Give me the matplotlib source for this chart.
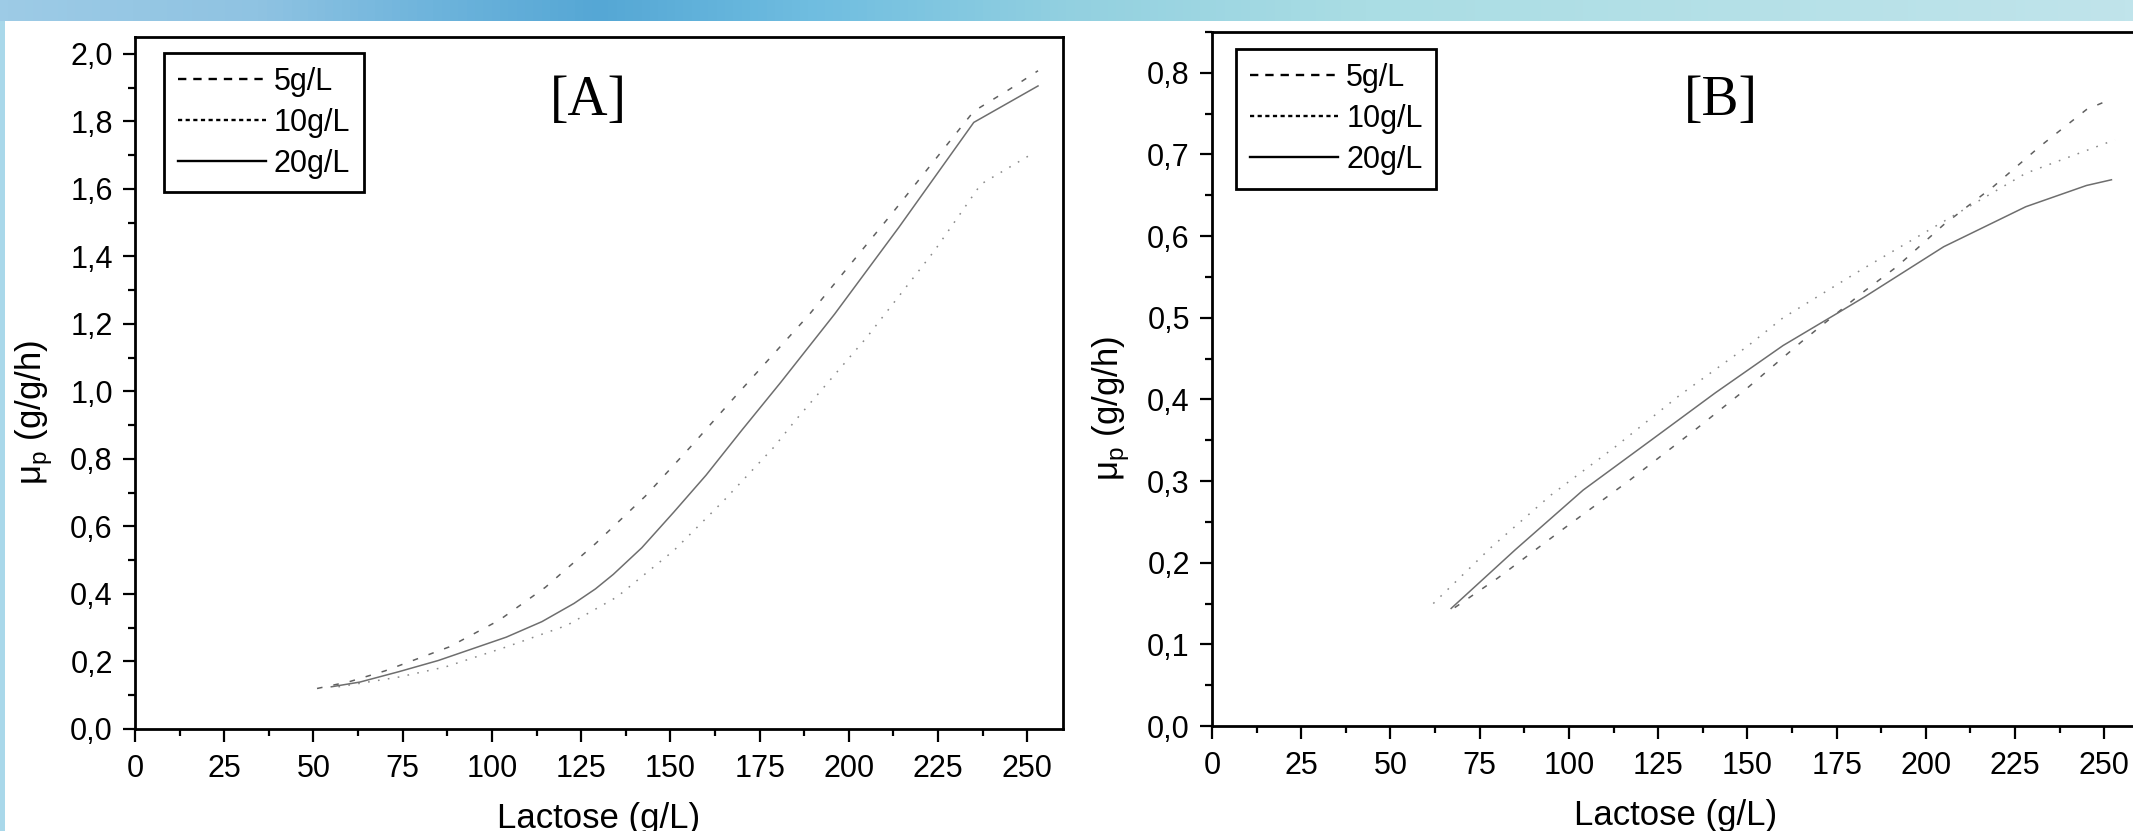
import matplotlib
matplotlib.use('Agg')
import matplotlib.pyplot as plt
from matplotlib.lines import Line2D
from matplotlib.patches import Rectangle
from matplotlib.colors import LinearSegmentedColormap
from matplotlib.ticker import MultipleLocator, FuncFormatter
import numpy as np

# --- data -----------------------------------------------------------------
labels = ['5g/L', '10g/L', '20g/L']

# panel A
lactose_a_5 = [51, 60, 70, 88, 102, 115, 129, 143, 156, 168, 189, 212, 235, 245, 253]
mu_a_5 = [0.12, 0.14, 0.172, 0.243, 0.322, 0.42, 0.549, 0.69, 0.84, 0.983, 1.229, 1.526, 1.83, 1.895, 1.95]
lactose_a_10 = [57, 74, 87, 104, 121, 135, 151, 165, 179, 185, 205, 224, 237, 252]
mu_a_10 = [0.125, 0.154, 0.184, 0.243, 0.307, 0.391, 0.529, 0.677, 0.835, 0.914, 1.16, 1.417, 1.614, 1.708]
lactose_a_20 = [55, 63, 74, 85, 104, 114, 123, 129, 134, 142, 151, 160, 170, 181, 196, 214, 235, 253]
mu_a_20 = [0.125, 0.139, 0.17, 0.203, 0.272, 0.318, 0.372, 0.415, 0.458, 0.537, 0.643, 0.752, 0.885, 1.028, 1.229, 1.486, 1.797, 1.905]

# panel B
lactose_b_5 = [68, 80, 98, 117, 136, 150, 165, 182, 192, 205, 219, 232, 245, 252]
mu_b_5 = [0.145, 0.181, 0.240, 0.301, 0.365, 0.414, 0.47, 0.53, 0.563, 0.614, 0.661, 0.710, 0.755, 0.768]
lactose_b_10 = [62, 78, 95, 113, 131, 150, 160, 182, 205, 228, 253]
mu_b_10 = [0.150, 0.218, 0.283, 0.342, 0.405, 0.465, 0.50, 0.559, 0.618, 0.677, 0.718]
lactose_b_20 = [67, 85, 104, 123, 141, 160, 175, 183, 205, 228, 245, 252]
mu_b_20 = [0.144, 0.216, 0.289, 0.350, 0.408, 0.466, 0.505, 0.526, 0.587, 0.636, 0.662, 0.669]

plt.rcParams['font.family'] = ['Liberation Sans', 'DejaVu Sans']
plt.rcParams['lines.scale_dashes'] = False

W, H = 2133, 831
fig = plt.figure(figsize=(W / 100, H / 100), dpi=100)
fig.patch.set_facecolor('white')

# slide decoration: gradient banner on top, thin strip on the left
banner = fig.add_axes([0, 1 - 21 / H, 1, 21 / H])
cmap = LinearSegmentedColormap.from_list('banner', [
    (0.0, '#9dcbe6'), (0.12, '#8fc3e2'), (0.2, '#6eb4dc'), (0.28, '#55a7d5'),
    (0.38, '#6fbde0'), (0.5, '#92d0e0'), (0.64, '#aadde4'), (1.0, '#c0e4eb')])
banner.imshow(np.linspace(0, 1, 512)[None, :], aspect='auto', cmap=cmap, extent=[0, 1, 0, 1])
banner.axis('off')
fig.patches.append(Rectangle((0, 0), 5 / W, 1 - 21 / H, transform=fig.transFigure,
                             facecolor='#a9d8ea', edgecolor='none', zorder=0))

styles = {
    '5g/L': dict(color='#606060', dashes=(4, 8)),
    '10g/L': dict(color='#8a8a8a', dashes=(1.2, 6)),
    '20g/L': dict(color='#6e6e6e'),
}


def comma_fmt(v, pos):
    return f'{v:.1f}'.replace('.', ',')


def setup_panel(ax, series, ymax, ymajor, tag, tag_xy, leg_xy):
    for lab, (x, y) in zip(labels, series):
        st = styles[lab]
        line, = ax.plot(x, y, color=st['color'], lw=1.1)
        if 'dashes' in st:
            line.set_dashes(st['dashes'])

    ax.set_xlim(0, 260)
    ax.set_ylim(0, ymax)
    ax.xaxis.set_major_locator(MultipleLocator(25))
    ax.xaxis.set_minor_locator(MultipleLocator(12.5))
    ax.yaxis.set_major_locator(MultipleLocator(ymajor))
    ax.yaxis.set_minor_locator(MultipleLocator(ymajor / 2))
    ax.yaxis.set_major_formatter(FuncFormatter(comma_fmt))
    ax.tick_params(which='major', direction='out', length=9, width=1.6, labelsize=22)
    ax.tick_params(which='minor', direction='out', length=5, width=1.6)
    ax.tick_params(axis='x', pad=9)
    ax.tick_params(axis='y', pad=7)
    for sp in ax.spines.values():
        sp.set_linewidth(2)

    ax.text(0.5, -0.143, 'Lactose (g/L)', transform=ax.transAxes,
            ha='center', va='baseline', fontsize=25)
    ax.text(-0.108, 0.457, 'μ$_\\mathregular{p}$ (g/g/h)', transform=ax.transAxes,
            rotation=90, ha='center', va='center', fontsize=25)
    ax.text(tag_xy[0], tag_xy[1], tag, transform=ax.transAxes, ha='center', va='center',
            fontsize=40, family=['Liberation Serif', 'DejaVu Serif'])

    handles = []
    for lab in labels:
        h = Line2D([], [], color='black', lw=1.7)
        if lab == '5g/L':
            h.set_dashes((6, 5))
        elif lab == '10g/L':
            h.set_dashes((3, 2.5))
        handles.append(h)
    leg = ax.legend(handles, labels, loc='upper left', bbox_to_anchor=leg_xy,
                    fontsize=22, handlelength=2.9, handletextpad=0.25,
                    labelspacing=0.36, borderpad=0.45, borderaxespad=0,
                    fancybox=False, framealpha=1, edgecolor='black')
    leg.get_frame().set_linewidth(2)


ax_a = fig.add_axes([135 / W, 1 - 729 / H, 928 / W, 692 / H])
setup_panel(ax_a,
            [(lactose_a_5, mu_a_5), (lactose_a_10, mu_a_10), (lactose_a_20, mu_a_20)],
            2.05, 0.2, '[A]', (0.489, 0.9075), (0.031, 0.977))

ax_b = fig.add_axes([1212 / W, 1 - 726 / H, 928 / W, 694 / H])
setup_panel(ax_b,
            [(lactose_b_5, mu_b_5), (lactose_b_10, mu_b_10), (lactose_b_20, mu_b_20)],
            0.85, 0.1, '[B]', (0.548, 0.90), (0.026, 0.9755))

fig.savefig('out.png', dpi=100)
